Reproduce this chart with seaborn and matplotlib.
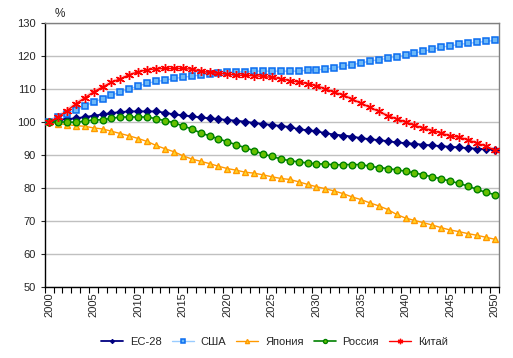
import matplotlib
matplotlib.use("Agg")
import matplotlib.pyplot as plt
import numpy as np
import seaborn as sns

# yearly values, 2000 = 100
years = list(range(2000, 2051))

eu28 = [100.0, 100.7, 100.9, 101.1, 101.5, 101.9, 102.3, 102.7, 103.0, 103.2,
        103.2, 103.2, 103.2, 102.8, 102.3, 102.0, 101.7, 101.4, 101.1, 100.9,
        100.6, 100.4, 100.1, 99.7, 99.4, 99.1, 98.8, 98.5, 97.8, 97.5,
        97.2, 96.6, 96.2, 95.9, 95.6, 95.1, 94.8, 94.5, 94.2, 93.8,
        93.6, 93.4, 93.1, 92.9, 92.7, 92.5, 92.3, 92.1, 91.9, 91.8, 91.6]

usa = [100.0, 101.4, 102.5, 103.7, 104.8, 106.1, 107.0, 108.1, 109.1, 110.0,
       110.9, 111.7, 112.3, 112.6, 113.2, 113.5, 113.9, 114.2, 114.6, 114.8,
       115.0, 115.2, 115.2, 115.4, 115.4, 115.4, 115.4, 115.4, 115.4, 115.7,
       115.8, 116.0, 116.3, 117.0, 117.4, 117.8, 118.5, 118.8, 119.3, 119.7,
       120.3, 120.9, 121.4, 122.0, 122.7, 123.0, 123.5, 123.8, 124.1, 124.4, 124.7]

japan = [100.0, 99.5, 99.2, 98.9, 98.7, 98.2, 97.9, 97.2, 96.5, 95.8,
         95.0, 94.1, 92.9, 91.9, 91.0, 89.8, 88.8, 88.1, 87.4, 86.6,
         85.9, 85.4, 84.8, 84.5, 84.0, 83.4, 82.9, 82.6, 81.9, 81.1,
         80.4, 79.8, 79.1, 78.3, 77.3, 76.5, 75.5, 74.6, 73.5, 72.0,
         70.9, 70.2, 69.5, 68.8, 68.0, 67.3, 66.8, 66.2, 65.7, 65.1, 64.5]

russia = [100.0, 100.0, 100.0, 99.9, 100.3, 100.6, 100.7, 101.1, 101.5, 101.5,
          101.5, 101.5, 101.0, 100.4, 99.8, 98.8, 97.9, 96.7, 95.8, 94.9,
          94.0, 93.1, 92.2, 91.3, 90.3, 89.6, 88.8, 88.3, 87.9, 87.6,
          87.3, 87.3, 87.0, 87.1, 87.1, 87.1, 86.6, 86.2, 85.9, 85.5,
          85.1, 84.6, 84.0, 83.4, 82.8, 82.1, 81.4, 80.6, 79.6, 78.7, 78.0]

china = [100.0, 101.5, 103.4, 105.5, 107.3, 109.1, 110.6, 112.0, 113.1, 114.3,
         115.2, 115.8, 116.1, 116.2, 116.2, 116.2, 116.0, 115.4, 115.0, 114.8,
         114.5, 114.2, 114.1, 114.0, 113.8, 113.5, 113.1, 112.5, 112.1, 111.6,
         111.0, 110.0, 109.0, 108.2, 106.9, 105.7, 104.4, 103.2, 101.9, 100.9,
         100.0, 99.0, 98.1, 97.4, 96.6, 95.8, 95.4, 94.6, 93.6, 92.7, 91.4]

names = ["ЕС-28", "США", "Япония", "Россия", "Китай"]
label_years = list(range(2000, 2051, 5))

sns.set_style("white")
plt.rcParams['font.family'] = ['Liberation Sans', 'DejaVu Sans']

fig = plt.figure(figsize=(5.13, 3.58), dpi=100)
ax = fig.add_axes([0.087, 0.198, 0.886, 0.738])

# series styles (Excel-like)
styles = [
    dict(color="#000080", marker="D", markersize=3.6, markerfacecolor="#000080",
         markeredgecolor="#000080", linewidth=1.3),
    dict(color="#99ccff", marker="s", markersize=4.6, markerfacecolor="#6cb8f7",
         markeredgecolor="#0a6cf0", markeredgewidth=1.1, linewidth=1),
    dict(color="#ff9900", marker="^", markersize=5, markerfacecolor="#ffd42a",
         markeredgecolor="#ff9900", markeredgewidth=1.0, linewidth=1),
    dict(color="#008000", marker="o", markersize=4.8, markerfacecolor="#66c000",
         markeredgecolor="#008000", markeredgewidth=1.0, linewidth=1.2),
    dict(color="#ff0000", marker=(6, 2, 0), markersize=6.5, markerfacecolor="#ff0000",
         markeredgecolor="#ff0000", markeredgewidth=1.0, linewidth=1),
]

for name, vals, st in zip(names, [eu28, usa, japan, russia, china], styles):
    if name == "Китай":
        # soft pink halo under the red series
        ax.plot(years, vals, color="#ffaaaa", linewidth=3, alpha=0.5, zorder=2)
    sns.lineplot(x=years, y=vals, ax=ax, label=name, zorder=3, **st)

ax.set_xlim(1999.5, 2050.5)
ax.set_ylim(50, 130)
ax.set_yticks(range(50, 131, 10))
ax.set_xticks(label_years)
ax.set_xticklabels([str(y) for y in label_years], rotation=90, fontsize=8)
ax.set_xticks(np.arange(1999.5, 2051, 1), minor=True)
ax.tick_params(axis="x", which="major", length=0, pad=4)
ax.tick_params(axis="x", which="minor", length=4, width=0.8, color="black", direction="out", bottom=True)
ax.tick_params(axis="y", which="major", length=3, width=0.8, labelsize=8, direction="out", left=True)
ax.set_xlabel("")
ax.set_ylabel("")

ax.yaxis.grid(True, color="#c0c0c0", linewidth=1)
ax.xaxis.grid(False)
ax.set_axisbelow(True)

ax.spines["left"].set_color("black")
ax.spines["bottom"].set_color("black")
ax.spines["top"].set_color("#808080")
ax.spines["right"].set_color("#808080")
for s in ax.spines.values():
    s.set_linewidth(1)

fig.text(0.107, 0.945, "%", fontsize=8.5, ha="left", va="bottom")

leg = ax.legend(loc="center", bbox_to_anchor=(0.535, 0.045), bbox_transform=fig.transFigure,
                ncol=5, frameon=False, fontsize=8, handlelength=2.0, columnspacing=0.9,
                handletextpad=0.6, markerscale=0.6)

fig.savefig("out.png", dpi=100)
